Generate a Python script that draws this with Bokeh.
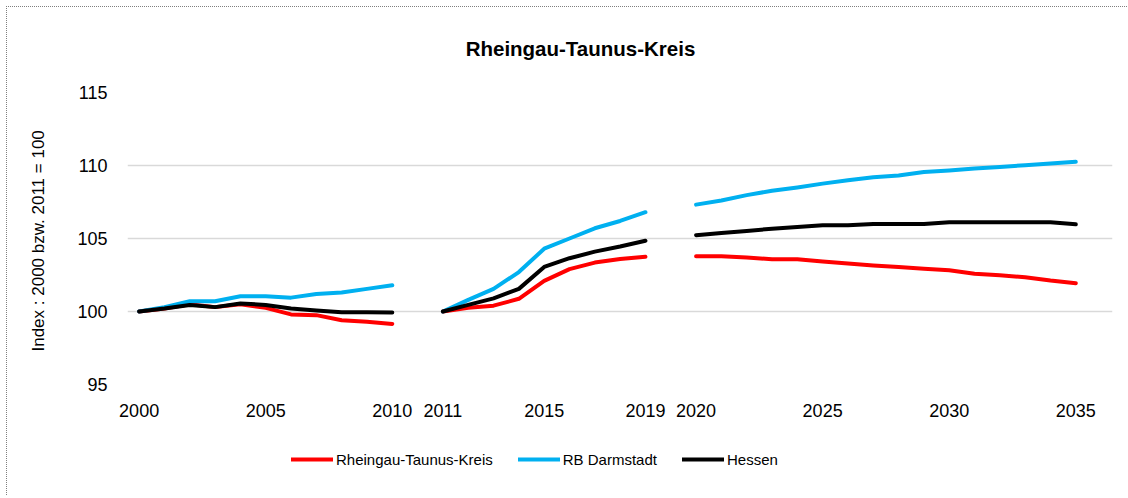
from bokeh.plotting import figure
from bokeh.models import Range1d, FixedTicker, Legend, LegendItem, Label
from bokeh.layouts import column
from bokeh.embed import file_html
from bokeh.resources import INLINE

# ---- data ----
years_a = [2000, 2001, 2002, 2003, 2004, 2005, 2006, 2007, 2008, 2009, 2010]
years_b = [2011, 2012, 2013, 2014, 2015, 2016, 2017, 2018, 2019]
years_c = [2020, 2021, 2022, 2023, 2024, 2025, 2026, 2027, 2028, 2029, 2030,
           2031, 2032, 2033, 2034, 2035]

rtk_a = [100.0, 100.2, 100.5, 100.3, 100.5, 100.25, 99.8, 99.75, 99.4, 99.3, 99.15]
rbd_a = [100.0, 100.3, 100.7, 100.7, 101.05, 101.05, 100.95, 101.2, 101.3, 101.55, 101.8]
hes_a = [100.0, 100.2, 100.45, 100.3, 100.55, 100.45, 100.2, 100.07, 99.95, 99.95, 99.93]

rtk_b = [100.0, 100.25, 100.4, 100.87, 102.1, 102.9, 103.35, 103.6, 103.75]
rbd_b = [100.0, 100.8, 101.55, 102.7, 104.3, 105.0, 105.7, 106.2, 106.8]
hes_b = [100.0, 100.45, 100.9, 101.55, 103.05, 103.65, 104.1, 104.45, 104.85]

rtk_c = [103.78, 103.78, 103.7, 103.58, 103.58, 103.42, 103.29, 103.15, 103.04,
         102.93, 102.82, 102.59, 102.48, 102.34, 102.12, 101.94]
rbd_c = [107.32, 107.6, 107.97, 108.27, 108.5, 108.76, 108.99, 109.2, 109.32,
         109.55, 109.66, 109.8, 109.9, 110.02, 110.13, 110.25]
hes_c = [105.23, 105.38, 105.52, 105.67, 105.79, 105.9, 105.9, 106.0, 106.0,
         106.0, 106.12, 106.12, 106.12, 106.12, 106.12, 105.97]

tick_years = [2000, 2005, 2010, 2011, 2015, 2019, 2020, 2025, 2030, 2035]
y_ticks = [95, 100, 105, 110, 115]
series_names = ["Rheingau-Taunus-Kreis", "RB Darmstadt", "Hessen"]
series_colors = ["#FF0000", "#00B0F0", "#000000"]
title_text = "Rheingau-Taunus-Kreis"
y_title = "Index : 2000 bzw. 2011  = 100"

# category positions: segments separated by one empty slot
all_years = years_a + [None] + years_b + [None] + years_c
pos = {y: i for i, y in enumerate(all_years) if y is not None}

def build(a, b, c):
    xs, ys = [], []
    for yrs, vals in ((years_a, a), (years_b, b), (years_c, c)):
        if xs:
            xs.append(float("nan")); ys.append(float("nan"))
        xs += [pos[y] for y in yrs]
        ys += vals
    return xs, ys

series = [build(rtk_a, rtk_b, rtk_c), build(rbd_a, rbd_b, rbd_c), build(hes_a, hes_b, hes_c)]

FONT = "Liberation Sans"
W = 1128
FL, FR = 127, 1112            # frame left / right in page pixels (columns align frames)
H_TITLE, H_MAIN, H_LEG = 68, 380, 48

def strip(h):
    f = figure(width=W, height=h, output_backend="svg", toolbar_location=None,
               x_range=Range1d(FL, FR), y_range=Range1d(0, h),
               x_axis_type=None, y_axis_type=None,
               min_border=0, min_border_top=0, min_border_bottom=0)
    f.grid.visible = False
    f.outline_line_color = None
    f.background_fill_alpha = 0
    f.border_fill_alpha = 0
    return f

# ---- title strip ----
pt = strip(H_TITLE)
pt.add_layout(Label(x=580, y=H_TITLE - 47.5, text=title_text, text_font=FONT,
                    text_font_size="20.5px", text_font_style="bold", text_color="#000000",
                    text_align="center", text_baseline="middle"))

# ---- main chart ----
p = figure(width=W, height=H_MAIN, output_backend="svg", toolbar_location=None,
           x_range=Range1d(-0.46, 38.45), y_range=Range1d(95, 115),
           min_border_left=FL, min_border_right=W - FR, min_border_top=24, min_border_bottom=64)
p.outline_line_color = None
p.background_fill_color = "white"
p.border_fill_alpha = 0

p.xgrid.grid_line_color = None
p.ygrid.grid_line_color = "#d9d9d9"
p.ygrid.grid_line_width = 1.3

p.yaxis.ticker = FixedTicker(ticks=y_ticks)
p.xaxis.ticker = FixedTicker(ticks=[pos[y] for y in tick_years])
p.xaxis.major_label_overrides = {pos[y]: str(y) for y in tick_years}

for ax in (p.xaxis[0], p.yaxis[0]):
    ax.axis_line_color = None
    ax.major_tick_line_color = None
    ax.minor_tick_line_color = None
    ax.major_tick_in = 0
    ax.major_tick_out = 0
    ax.minor_tick_in = 0
    ax.minor_tick_out = 0
    ax.major_label_text_font = FONT
    ax.major_label_text_font_size = "18px"
    ax.major_label_text_color = "#000000"

p.yaxis.major_label_standoff = 20
p.xaxis.major_label_standoff = 19
p.yaxis.axis_label = y_title
p.yaxis.axis_label_text_font = FONT
p.yaxis.axis_label_text_font_size = "17px"
p.yaxis.axis_label_text_font_style = "normal"
p.yaxis.axis_label_text_color = "#000000"
p.yaxis.axis_label_standoff = 26

for (xs, ys), col in zip(series, series_colors):
    p.line(xs, ys, line_color=col, line_width=4, line_cap="round", line_join="round")

# ---- legend strip ----
pl = strip(H_LEG)
leg_renderers = [pl.line([-1000, -999], [-1000, -1000], line_color=c, line_width=4, line_cap="round")
                 for c in series_colors]
legend = Legend(items=[LegendItem(label=n, renderers=[r]) for n, r in zip(series_names, leg_renderers)],
                orientation="horizontal", location=(291 - FL, H_LEG - 21),
                glyph_width=42, glyph_height=20, label_height=20, label_standoff=3,
                spacing=25, padding=0, margin=0,
                label_text_font=FONT, label_text_font_size="15px", label_text_color="#000000",
                border_line_color=None, background_fill_alpha=0)
pl.add_layout(legend, "center")

layout = column(pt, p, pl, spacing=0)
layout.styles = {
    "background-color": "white",
    "background-image": ("repeating-linear-gradient(to right, #7f7f7f 0px, #7f7f7f 1px, transparent 1px, transparent 2px), "
                         "repeating-linear-gradient(to bottom, #7f7f7f 0px, #7f7f7f 1px, transparent 1px, transparent 2px)"),
    "background-size": "100% 1px, 1px 100%",
    "background-repeat": "no-repeat",
    "background-position": "6px 6px, 6px 6px",
}

open("out.html", "w").write(file_html(layout, INLINE))
